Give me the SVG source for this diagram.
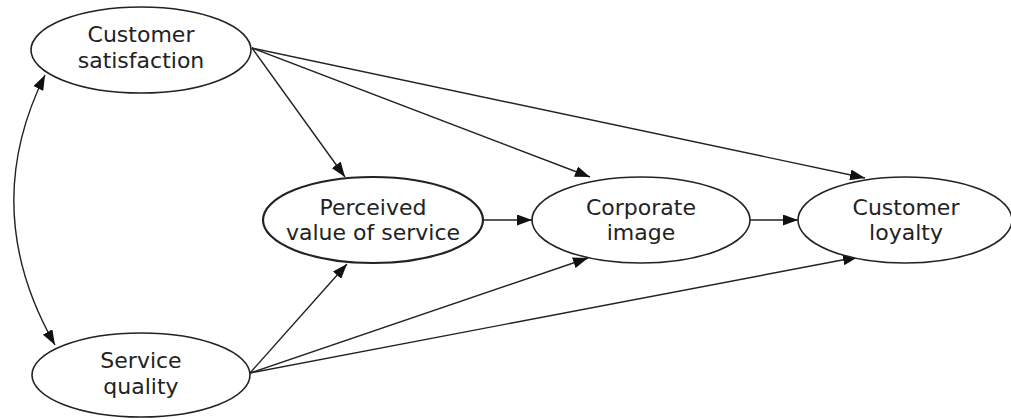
<svg xmlns="http://www.w3.org/2000/svg" width="1011" height="419" viewBox="0 0 1011 419">
<style>
.node ellipse{fill:#fff;stroke:#222;stroke-width:1.6}
.node text{font-family:"DejaVu Sans",sans-serif;font-size:22px;fill:#222;text-anchor:middle}
.edges path{fill:none;stroke:#222;stroke-width:1.4}
</style>
<defs>
<marker id="ah" viewBox="0 0 15 11" refX="15" refY="5.5" markerWidth="15" markerHeight="11" markerUnits="userSpaceOnUse" orient="auto-start-reverse">
<path d="M0,0 L15,5.5 L0,11 Z" fill="#111"/>
</marker>
</defs>
<rect width="1011" height="419" fill="#fff"/>
<g class="edges">
<path d="M252,48 L345,177" marker-end="url(#ah)"/>
<path d="M252,48 L590,177" marker-end="url(#ah)"/>
<path d="M252,48 L865,178" marker-end="url(#ah)"/>
<path d="M250,373 L347,264" marker-end="url(#ah)"/>
<path d="M250,373 L588,258" marker-end="url(#ah)"/>
<path d="M250,373 L858,257" marker-end="url(#ah)"/>
<path d="M483,220 L532,220" marker-end="url(#ah)"/>
<path d="M750,220 L798,220" marker-end="url(#ah)"/>
<path d="M45,75 Q-22,210 55,345" marker-start="url(#ah)" marker-end="url(#ah)"/>
</g>
<g id="customer-satisfaction" class="node">
<ellipse cx="141" cy="50" rx="110" ry="43"/>
<text x="141" y="42">Customer</text>
<text x="141" y="68">satisfaction</text>
</g>
<g id="service-quality" class="node">
<ellipse cx="141" cy="375" rx="109" ry="42"/>
<text x="141" y="368">Service</text>
<text x="141" y="394">quality</text>
</g>
<g id="perceived-value" class="node">
<ellipse cx="373" cy="220" rx="110" ry="43" style="stroke-width:2.2"/>
<text x="373" y="215">Perceived</text>
<text x="373" y="240">value of service</text>
</g>
<g id="corporate-image" class="node">
<ellipse cx="641" cy="220" rx="109" ry="43"/>
<text x="641" y="215">Corporate</text>
<text x="641" y="240">image</text>
</g>
<g id="customer-loyalty" class="node">
<ellipse cx="905" cy="220" rx="107" ry="43"/>
<text x="906" y="215">Customer</text>
<text x="906" y="240">loyalty</text>
</g>
</svg>
